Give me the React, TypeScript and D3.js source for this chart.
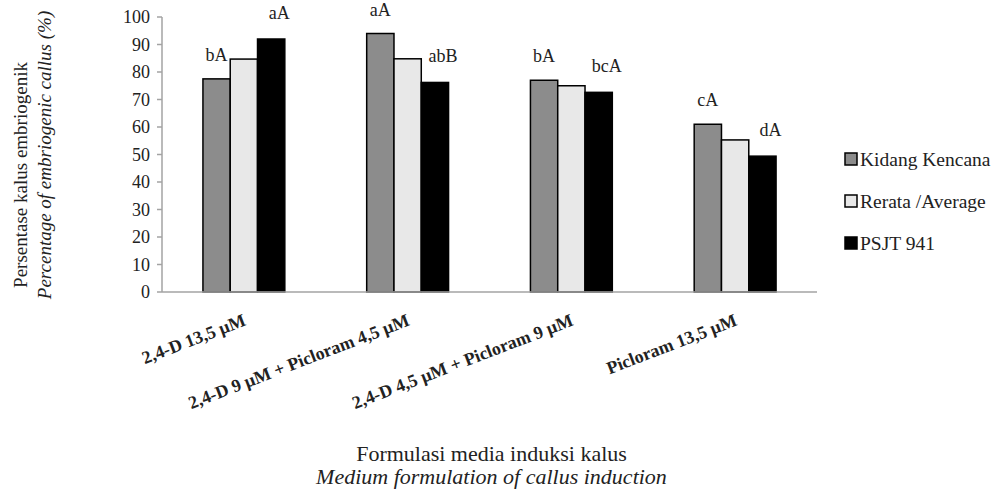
import * as d3 from "d3";

// Data
const categories = [
  "2,4-D 13,5 µM",
  "2,4-D 9 µM + Picloram 4,5 µM",
  "2,4-D 4,5 µM + Picloram 9 µM",
  "Picloram 13,5 µM",
];
const seriesNames = ["Kidang Kencana", "Rerata /Average", "PSJT 941"];
const kidangKencana = [77.5, 94, 77, 61];
const rerata = [84.7, 84.8, 75, 55.3];
const psjt941 = [92, 76.2, 72.6, 49.4];
const kidangLetters = ["bA", "aA", "bA", "cA"];
const psjtLetters = ["aA", "abB", "bcA", "dA"];
const yTicks = [0, 10, 20, 30, 40, 50, 60, 70, 80, 90, 100];

const colors = ["#8c8c8c", "#e8e8e8", "#000000"];
const FONT = "Liberation Serif";
const TEXT = "#222";
const AXIS = "#a3a3a3";

const width = 996;
const height = 493;
const margin = { top: 17, right: 179, bottom: 201, left: 162 };
const innerW = width - margin.left - margin.right;
const innerH = height - margin.top - margin.bottom;

export default function App() {
  const series = [kidangKencana, rerata, psjt941];

  const x0 = d3.scaleBand().domain(categories).range([0, innerW]).paddingInner(0.5).paddingOuter(0.25);
  const x1 = d3.scaleBand().domain(seriesNames).range([0, x0.bandwidth()]);
  const y = d3.scaleLinear().domain([0, 100]).range([innerH, 0]);

  return (
    <svg width={width} height={height} fontFamily={FONT}
      style={{ display: "block", position: "absolute", left: 0, top: 0, background: "#fff" }}>
      <g transform={`translate(${margin.left},${margin.top})`}>
        {/* y axis */}
        <line x1={0} x2={0} y1={0} y2={innerH} stroke={AXIS} strokeWidth={1.5} />
        {yTicks.map((t) => (
          <g key={t} transform={`translate(0,${y(t)})`}>
            <line x1={-5} x2={0} stroke={AXIS} strokeWidth={1.5} />
            <text x={-12} dy="0.34em" textAnchor="end" fontSize={18} fill={TEXT} fontFamily={FONT}>{t}</text>
          </g>
        ))}

        {/* bars */}
        {categories.map((cat, i) => (
          <g key={cat} transform={`translate(${x0(cat)},0)`}>
            {seriesNames.map((s, j) => (
              <rect key={s}
                x={x1(s)}
                y={y(series[j][i])}
                width={x1.bandwidth()}
                height={innerH - y(series[j][i])}
                fill={colors[j]} stroke="#000" strokeWidth={1.5} />
            ))}
            <text x={x1(seriesNames[0])! + x1.bandwidth() / 2} y={y(kidangKencana[i]) - 18}
              textAnchor="middle" fontSize={18} fill={TEXT} fontFamily={FONT}>{kidangLetters[i]}</text>
            <text x={x1(seriesNames[2])! + x1.bandwidth() / 2 + 8} y={y(psjt941[i]) - 20}
              textAnchor="middle" fontSize={18} fill={TEXT} fontFamily={FONT}>{psjtLetters[i]}</text>
          </g>
        ))}

        {/* x axis */}
        <line x1={0} x2={innerW} y1={innerH} y2={innerH} stroke={AXIS} strokeWidth={1.5} />
        {categories.map((cat) => (
          <text key={cat}
            transform={`translate(${x0(cat)! + x0.bandwidth() / 2 + 3},${innerH + 33}) rotate(-21)`}
            textAnchor="end" fontSize={18} fontWeight="bold" fill={TEXT} fontFamily={FONT}>{cat}</text>
        ))}

        {/* x title */}
        <text x={innerW / 2 + 2} y={461 - margin.top} textAnchor="middle" fontSize={22} fill={TEXT} fontFamily={FONT}>
          Formulasi media induksi kalus
        </text>
        <text x={innerW / 2 + 2} y={484 - margin.top} textAnchor="middle" fontSize={22} fontStyle="italic" fill={TEXT} fontFamily={FONT}>
          Medium formulation of callus induction
        </text>
      </g>

      {/* y title */}
      <text transform="translate(27,175) rotate(-90)" textAnchor="middle" fontSize={19} fill={TEXT} fontFamily={FONT}>
        Persentase kalus embriogenik
      </text>
      <text transform="translate(51,155) rotate(-90)" textAnchor="middle" fontSize={19} fontStyle="italic" fill={TEXT} fontFamily={FONT}>
        Percentage of embriogenic callus (%)
      </text>

      {/* legend */}
      <g transform="translate(845,153)">
        {seriesNames.map((s, j) => (
          <g key={s} transform={`translate(0,${j * 42})`}>
            <rect x={0} y={0} width={12} height={12} fill={colors[j]} stroke="#000" strokeWidth={1.5} />
            <text x={15} y={13} fontSize={19.5} fill={TEXT} fontFamily={FONT}>{s}</text>
          </g>
        ))}
      </g>
    </svg>
  );
}
